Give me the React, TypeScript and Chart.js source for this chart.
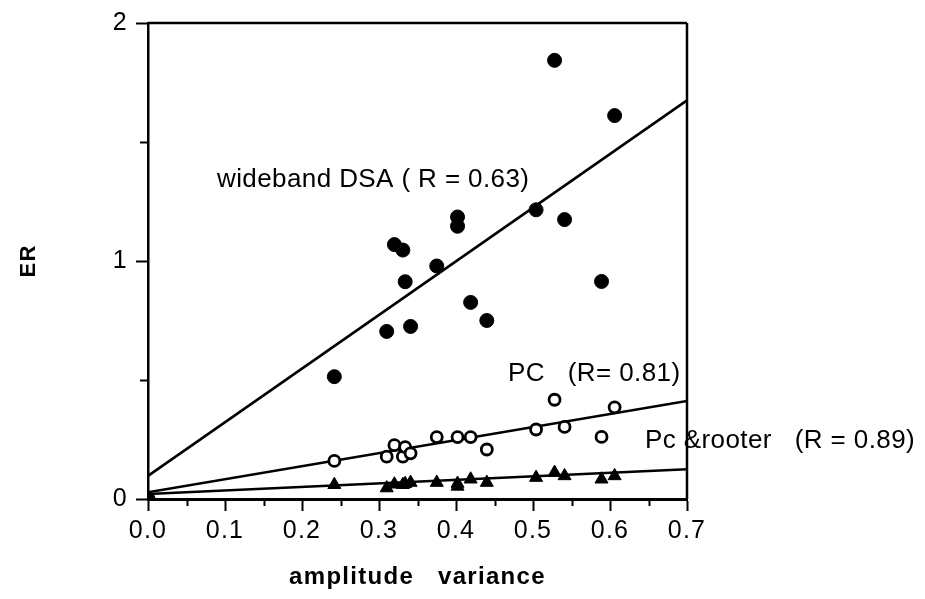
import React, { useEffect, useRef } from "react";
import { Chart, registerables } from "chart.js";

Chart.register(...registerables);

// ---- data ----
const dsaX = [0, 0.242, 0.31, 0.32, 0.331, 0.334, 0.341, 0.375, 0.402, 0.402, 0.419, 0.44, 0.504, 0.528, 0.541, 0.589, 0.606];
const dsaY = [0, 0.514, 0.704, 1.069, 1.046, 0.913, 0.725, 0.979, 1.185, 1.146, 0.826, 0.75, 1.215, 1.843, 1.174, 0.914, 1.611];

const pcX = [0, 0.242, 0.31, 0.32, 0.331, 0.334, 0.341, 0.375, 0.402, 0.419, 0.44, 0.504, 0.528, 0.541, 0.589, 0.606];
const pcY = [0, 0.16, 0.178, 0.226, 0.178, 0.218, 0.192, 0.26, 0.26, 0.26, 0.208, 0.292, 0.417, 0.303, 0.261, 0.385];

const rooterX = [0, 0.242, 0.31, 0.32, 0.331, 0.334, 0.341, 0.375, 0.402, 0.402, 0.419, 0.44, 0.504, 0.528, 0.541, 0.589, 0.606];
const rooterY = [0, 0.06, 0.046, 0.062, 0.06, 0.064, 0.069, 0.069, 0.065, 0.053, 0.083, 0.069, 0.09, 0.111, 0.097, 0.083, 0.097];

const fitX = [0, 0.7];
const dsaFitY = [0.097, 1.675];
const pcFitY = [0.028, 0.412];
const rooterFitY = [0.021, 0.125];

const noteTexts = ["wideband DSA ( R = 0.63)", "PC   (R= 0.81)", "Pc &rooter   (R = 0.89)"];
const noteX = [0.0896, 0.4675, 0.6455];
const noteY = [1.311, 0.494, 0.215];

const xMinorTicks = [0.05, 0.15, 0.25, 0.35, 0.45, 0.55, 0.65];
const yMinorTicks = [0.5, 1.5];

const xTitle = "amplitude   variance";
const yTitle = "ER";

const FONT = "'Liberation Sans', Arial, Helvetica, sans-serif";

const pts = (xs: number[], ys: number[]) => xs.map((x, i) => ({ x, y: ys[i] }));

const framePlugin = {
  id: "frame",
  beforeDraw(chart: any) {
    const ctx = chart.ctx;
    try {
      ctx.letterSpacing = "1.3px";
    } catch (e) {}
  },
  afterDraw(chart: any) {
    const { ctx, chartArea, scales } = chart;
    const xs = scales.x;
    const ys = scales.y;
    ctx.save();
    try {
      ctx.letterSpacing = "0px";
    } catch (e) {}
    ctx.strokeStyle = "#000";
    ctx.lineWidth = 2.5;
    ctx.beginPath();
    ctx.moveTo(chartArea.left, chartArea.top);
    ctx.lineTo(chartArea.right, chartArea.top);
    ctx.moveTo(chartArea.right, chartArea.top);
    ctx.lineTo(chartArea.right, chartArea.bottom);
    ctx.stroke();
    // minor ticks
    ctx.lineWidth = 2;
    ctx.beginPath();
    xMinorTicks.forEach((v) => {
      const px = Math.round(xs.getPixelForValue(v)) + 0.5;
      ctx.moveTo(px, chartArea.bottom);
      ctx.lineTo(px, chartArea.bottom + 7);
    });
    yMinorTicks.forEach((v) => {
      const py = Math.round(ys.getPixelForValue(v)) + 0.5;
      ctx.moveTo(chartArea.left, py);
      ctx.lineTo(chartArea.left - 8, py);
    });
    ctx.stroke();
    // notes
    try {
      ctx.letterSpacing = "0.4px";
    } catch (e) {}
    ctx.fillStyle = "#000";
    ctx.font = `26px ${FONT}`;
    ctx.textAlign = "left";
    ctx.textBaseline = "alphabetic";
    noteTexts.forEach((t, i) => {
      ctx.fillText(t, xs.getPixelForValue(noteX[i]), ys.getPixelForValue(noteY[i]));
    });
    ctx.restore();
    try {
      ctx.letterSpacing = "0px";
    } catch (e) {}
  },
};

export default function App() {
  const ref = useRef<HTMLCanvasElement | null>(null);

  useEffect(() => {
    if (!ref.current) return;
    const chart = new Chart(ref.current, {
      type: "scatter",
      data: {
        datasets: [
          {
            label: "wideband DSA",
            data: pts(dsaX, dsaY),
            showLine: false,
            pointStyle: "circle",
            pointRadius: 7,
            backgroundColor: "#000",
            borderColor: "#000",
            borderWidth: 1,
            order: 0,
          },
          {
            label: "PC",
            data: pts(pcX, pcY),
            showLine: false,
            pointStyle: "circle",
            pointRadius: 5.5,
            backgroundColor: "#fff",
            borderColor: "#000",
            borderWidth: 2.8,
            order: 0,
          },
          {
            label: "Pc &rooter",
            data: pts(rooterX, rooterY),
            showLine: false,
            pointStyle: "triangle",
            pointRadius: 7.5,
            backgroundColor: "#000",
            borderColor: "#000",
            borderWidth: 1,
            order: 0,
          },
          {
            label: "DSA fit",
            data: pts(fitX, dsaFitY),
            showLine: true,
            pointRadius: 0,
            borderColor: "#000",
            borderWidth: 2.6,
            order: 1,
          },
          {
            label: "PC fit",
            data: pts(fitX, pcFitY),
            showLine: true,
            pointRadius: 0,
            borderColor: "#000",
            borderWidth: 2.6,
            order: 1,
          },
          {
            label: "rooter fit",
            data: pts(fitX, rooterFitY),
            showLine: true,
            pointRadius: 0,
            borderColor: "#000",
            borderWidth: 2.6,
            order: 1,
          },
        ],
      },
      options: {
        animation: false,
        responsive: false,
        events: [],
        layout: { padding: { top: 17, right: 238, left: 0, bottom: 0 } },
        plugins: {
          legend: { display: false },
          tooltip: { enabled: false },
        },
        scales: {
          x: {
            type: "linear",
            position: "bottom",
            min: 0,
            max: 0.7,
            ticks: {
              stepSize: 0.1,
              autoSkip: false,
              maxRotation: 0,
              padding: 5,
              color: "#000",
              font: { family: FONT, size: 25 },
              callback: (v: any) => Number(v).toFixed(1),
            },
            grid: {
              drawOnChartArea: false,
              drawTicks: true,
              tickLength: 12,
              tickWidth: 2,
              tickColor: "#000",
              color: "#000",
            },
            border: { display: true, color: "#000", width: 3 },
            title: {
              display: true,
              text: xTitle,
              color: "#000",
              font: { family: FONT, size: 24, weight: "bold" },
              padding: { top: 0, bottom: 7 },
            },
            afterFit: (s: any) => {
              s.height = 100;
            },
          },
          y: {
            type: "linear",
            min: 0,
            max: 2,
            ticks: {
              stepSize: 1,
              padding: 8,
              color: "#000",
              font: { family: FONT, size: 25 },
              callback: (v: any) => String(v),
            },
            grid: {
              drawOnChartArea: false,
              drawTicks: true,
              tickLength: 12,
              tickWidth: 2,
              tickColor: "#000",
              color: "#000",
            },
            border: { display: true, color: "#000", width: 2.5 },
            title: {
              display: true,
              text: yTitle,
              color: "#000",
              font: { family: FONT, size: 22, weight: "bold" },
              padding: { top: 16, bottom: 0 },
            },
            afterFit: (s: any) => {
              s.width = 148;
            },
          },
        },
      } as any,
      plugins: [framePlugin],
    });
    return () => chart.destroy();
  }, []);

  return (
    <div style={{ position: "absolute", left: 0, top: 0, width: 925, height: 599, background: "#fff" }}>
      <canvas ref={ref} width={925} height={599} style={{ display: "block" }} />
    </div>
  );
}
